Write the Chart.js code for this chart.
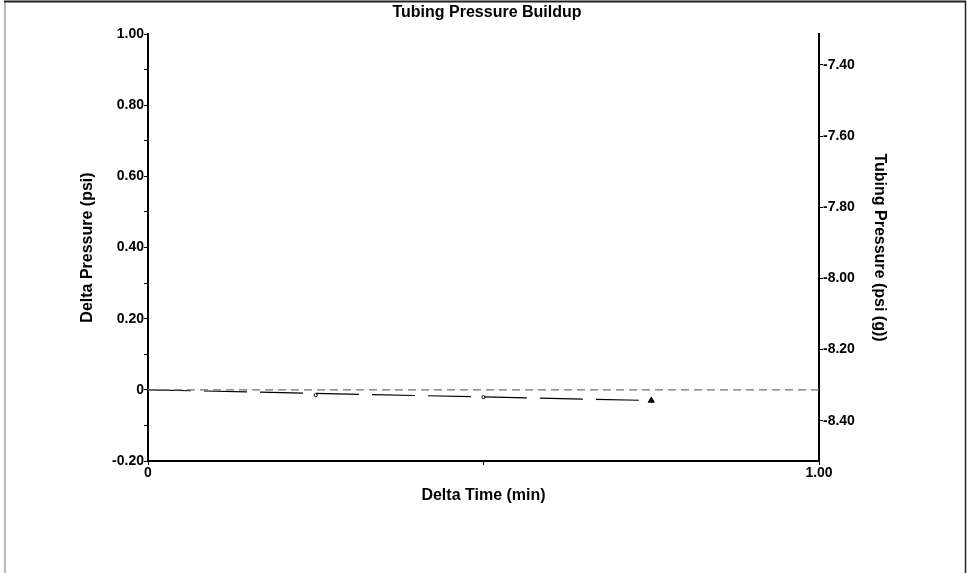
<!DOCTYPE html>
<html>
<head>
<meta charset="utf-8">
<title>Tubing Pressure Buildup</title>
<script src="https://cdn.jsdelivr.net/npm/chart.js@4"></script>
<style>
  body { margin: 0; background: #fff; }
  #wrap { position: relative; width: 967px; height: 573px; }
</style>
</head>
<body>
<div id="wrap"><canvas id="buildupChart"></canvas></div>
<script>
// values
const startPressure = -8.313; // tubing pressure (psi (g)) at delta 0

const markerTime = [0.25, 0.5, 0.75];
const markerDelta = [-0.015, -0.0205, -0.030];
const markerStyle = ['circle', 'circle', 'triangle'];

const trendTime = [0, 0.75];
const trendDelta = [0, -0.030];

const zeroTime = [0, 1];
const zeroDelta = [0, 0];

const timeTicks = [0, 0.5, 1.0];
const timeLabels = ['0', '', '1.00'];
const deltaTicks = [-0.2, -0.1, 0, 0.1, 0.2, 0.3, 0.4, 0.5, 0.6, 0.7, 0.8, 0.9, 1.0];
const deltaLabels = ['-0.20', '', '0', '', '0.20', '', '0.40', '', '0.60', '', '0.80', '', '1.00'];
const pressureTicks = [-7.4, -7.6, -7.8, -8.0, -8.2, -8.4];

const toPoints = (xs, ys) => xs.map((x, i) => ({ x: x, y: ys[i] }));

const fontFamily = '"Liberation Sans", Arial, sans-serif';
Chart.defaults.font.family = fontFamily;
Chart.defaults.color = '#000';

const axisGrid = { drawOnChartArea: false, drawTicks: true, tickLength: 4, color: '#000', lineWidth: 1 };
const axisBorder = { display: true, color: '#000', width: 2 };
const tickFont = { size: 14, weight: 'bold' };
const titleFont = { size: 16, weight: 'bold' };

const framePlugin = {
  id: 'frame',
  beforeDraw(chart) {
    const ctx = chart.ctx;
    ctx.save();
    ctx.fillStyle = '#fff';
    ctx.fillRect(0, 0, chart.width, chart.height);
    ctx.lineWidth = 2;
    ctx.strokeStyle = '#bbb';
    ctx.beginPath();
    ctx.moveTo(5, 1);
    ctx.lineTo(5, chart.height);
    ctx.stroke();
    ctx.strokeStyle = '#222';
    ctx.beginPath();
    ctx.moveTo(4, 1.5);
    ctx.lineTo(966, 1.5);
    ctx.stroke();
    ctx.lineWidth = 1.5;
    ctx.beginPath();
    ctx.moveTo(965.5, 1);
    ctx.lineTo(965.5, chart.height);
    ctx.stroke();
    ctx.restore();
  },
  afterDraw(chart) {
    const ctx = chart.ctx;
    ctx.save();
    ctx.font = 'bold 16px ' + fontFamily;
    ctx.fillStyle = '#000';
    ctx.textAlign = 'center';
    ctx.textBaseline = 'middle';
    ctx.fillText('Tubing Pressure Buildup', 487, 13);
    ctx.restore();
  }
};

const ctx = document.getElementById('buildupChart').getContext('2d');
new Chart(ctx, {
  type: 'scatter',
  data: {
    datasets: [
      {
        label: 'Zero',
        data: toPoints(zeroTime, zeroDelta),
        showLine: true,
        borderColor: '#707070',
        borderWidth: 1.3,
        borderDash: [8, 5],
        pointRadius: 0,
        xAxisID: 'x',
        yAxisID: 'y'
      },
      {
        label: 'Trend',
        data: toPoints(trendTime, trendDelta),
        showLine: true,
        borderColor: '#000',
        borderWidth: 1.2,
        borderDash: [43, 13],
        pointRadius: 0,
        xAxisID: 'x',
        yAxisID: 'y'
      },
      {
        label: 'Delta Pressure',
        data: toPoints(markerTime, markerDelta),
        showLine: false,
        pointStyle: markerStyle,
        pointRadius: [1.6, 1.6, 3.5],
        pointBorderWidth: 1,
        pointBorderColor: '#000',
        pointBackgroundColor: ['#fff', '#fff', '#000'],
        xAxisID: 'x',
        yAxisID: 'y'
      }
    ]
  },
  options: {
    responsive: true,
    maintainAspectRatio: false,
    animation: false,
    layout: { padding: { top: 34, left: 0, right: 0, bottom: 0 } },
    plugins: {
      legend: { display: false },
      tooltip: { enabled: false }
    },
    scales: {
      x: {
        type: 'linear',
        position: 'bottom',
        min: 0,
        max: 1,
        grid: axisGrid,
        border: axisBorder,
        afterBuildTicks: scale => { scale.ticks = timeTicks.map(v => ({ value: v })); },
        afterFit: scale => { scale.height = 112; },
        ticks: {
          font: tickFont,
          padding: 0,
          maxRotation: 0,
          autoSkip: false,
          callback: (v, i) => timeLabels[i]
        },
        title: {
          display: true,
          text: 'Delta Time (min)',
          font: titleFont,
          padding: { top: 0, bottom: 68 }
        }
      },
      y: {
        type: 'linear',
        position: 'left',
        min: -0.2,
        max: 1.0,
        grid: axisGrid,
        border: axisBorder,
        afterBuildTicks: scale => { scale.ticks = deltaTicks.map(v => ({ value: v })); },
        afterFit: scale => { scale.width = 148; },
        ticks: {
          font: tickFont,
          padding: 0,
          autoSkip: false,
          callback: (v, i) => deltaLabels[i]
        },
        title: {
          display: true,
          text: 'Delta Pressure (psi)',
          font: titleFont,
          padding: { top: 78, bottom: 0 }
        }
      },
      y2: {
        type: 'linear',
        position: 'right',
        min: -0.2 + startPressure,
        max: 1.0 + startPressure,
        grid: axisGrid,
        border: axisBorder,
        afterBuildTicks: scale => { scale.ticks = pressureTicks.map(v => ({ value: v })); },
        afterFit: scale => { scale.width = 148; },
        ticks: {
          font: tickFont,
          padding: 0,
          autoSkip: false,
          callback: v => v.toFixed(2)
        },
        title: {
          display: true,
          text: 'Tubing Pressure (psi (g))',
          font: titleFont,
          padding: { top: 78, bottom: 0 }
        }
      }
    }
  },
  plugins: [framePlugin]
});
</script>
</body>
</html>
